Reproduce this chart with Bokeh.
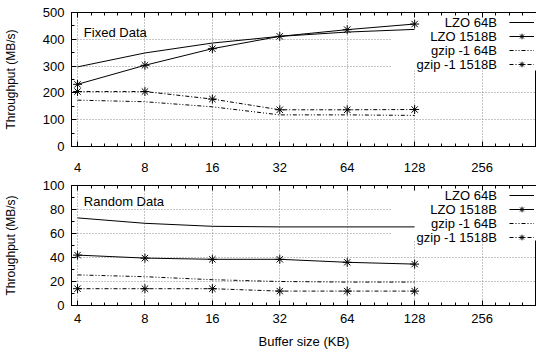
from bokeh.plotting import figure
from bokeh.layouts import column
from bokeh.models import (Range1d, FixedTicker, SingleIntervalTicker, BasicTickFormatter,
                          CustomJSTickFormatter, LogAxis, Legend, LegendItem, Label,
                          BoxAnnotation)
from bokeh.embed import file_html
from bokeh.resources import INLINE

# ---------------- data ----------------
buffer_kb = [4, 8, 16, 32, 64, 128]
x_tick_values = [4, 8, 16, 32, 64, 128, 256]
series_names = ["LZO 64B", "LZO 1518B", "gzip -1 64B", "gzip -1 1518B"]

fixed_lzo_64 = [297, 349, 386, 411, 427, 437]
fixed_lzo_1518 = [232, 303, 365, 411, 436, 457]
fixed_gzip_64 = [173, 167, 148, 118, 118, 116]
fixed_gzip_1518 = [205, 205, 177, 137, 137, 138]

random_lzo_64 = [73, 68.5, 66, 65.5, 65.5, 65.5]
random_lzo_1518 = [42, 39.5, 38.5, 38.5, 36, 34.5]
random_gzip_64 = [25.5, 24, 21.5, 20, 19.5, 19.5]
random_gzip_1518 = [14, 14, 14, 12, 12, 12]

FONT = "Liberation Sans"
minor_x = [2 * 2 ** (i / 5) for i in range(0, 41)]

styles = [
    dict(dash="solid", marker=False),
    dict(dash="solid", marker=True),
    dict(dash="4 2 1 2 1 2", marker=False),
    dict(dash="4 2 1 2", marker=True),
]

FIG_W = 536
FRAME_LEFT = 67
X_START, X_END = 3.76, 448
LEGEND_TEXT_X = 298       # data x of the right edge of key texts


def make_panel(series, y_max, y_step, panel_label, label_y, box_bottom, height,
               border_top, border_bottom, frame_h, xlabel, key_first_row, key_text_y,
               tick_standoff):
    p = figure(width=FIG_W, height=height, x_axis_type="log",
               x_range=Range1d(X_START, X_END), y_range=Range1d(0, y_max),
               output_backend="svg", toolbar_location=None,
               min_border_left=FRAME_LEFT, min_border_right=0,
               min_border_top=border_top, min_border_bottom=border_bottom)
    p.background_fill_color = "white"
    p.border_fill_color = "white"
    p.outline_line_color = "black"
    p.outline_line_width = 1

    p.xaxis.ticker = FixedTicker(ticks=x_tick_values, minor_ticks=minor_x)
    p.xaxis.formatter = BasicTickFormatter()
    p.yaxis.ticker = SingleIntervalTicker(interval=y_step, num_minor_ticks=2)
    for ax in (p.xaxis, p.yaxis):
        ax.major_tick_in = 5
        ax.major_tick_out = 0
        ax.minor_tick_in = 3
        ax.minor_tick_out = 0
        ax.axis_line_color = "black"
        ax.major_tick_line_color = "black"
        ax.minor_tick_line_color = "black"
        ax.major_label_text_font = FONT
        ax.major_label_text_font_size = "13px"
        ax.major_label_text_color = "black"
        ax.axis_label_text_font = FONT
        ax.axis_label_text_font_style = "normal"
        ax.axis_label_text_color = "black"
    p.xaxis.major_label_standoff = tick_standoff
    p.yaxis.major_label_standoff = 7
    p.yaxis.axis_label = "Throughput (MB/s)"
    p.yaxis.axis_label_text_font_size = "12px"
    p.yaxis.axis_label_standoff = 22
    if xlabel:
        p.xaxis.axis_label = xlabel
        p.xaxis.axis_label_text_font_size = "13px"
        p.xaxis.axis_label_standoff = 8

    top_axis = LogAxis(ticker=FixedTicker(ticks=x_tick_values, minor_ticks=minor_x),
                       formatter=CustomJSTickFormatter(code="return ''"),
                       major_label_text_font_size="0px", major_label_standoff=0,
                       major_tick_in=5, major_tick_out=0, minor_tick_in=3, minor_tick_out=0,
                       axis_line_color="black")
    p.add_layout(top_axis, "above")

    for g in (p.xgrid, p.ygrid):
        g.grid_line_color = "#8a8a8a"
        g.grid_line_dash = "1 2"
        g.grid_line_width = 1

    # opaque key background
    p.add_layout(BoxAnnotation(left=100.9, bottom=box_bottom, fill_color="white",
                               fill_alpha=1.0, line_alpha=0, level="underlay"))

    items = []
    for name, vals, st in zip(series_names, series, styles):
        rs = [p.line(buffer_kb, vals, line_color="black", line_width=1,
                     line_dash=st["dash"])]
        if st["marker"]:
            rs.append(p.scatter(buffer_kb, vals, marker="asterisk", size=9,
                                line_color="black", line_width=1))
        items.append(LegendItem(label=" ", renderers=rs))

    # key_first_row: centre of the first key row, pixels below the frame top
    row_h = 14
    key_top = key_first_row - row_h / 2
    legend = Legend(items=items,
                    location=(505 - FRAME_LEFT, round(frame_h - key_top - 4 * row_h)),
                    orientation="vertical",
                    glyph_width=25, glyph_height=row_h, label_height=row_h, label_width=0,
                    spacing=0, padding=0, margin=0, label_standoff=0,
                    label_text_font=FONT, label_text_font_size="1px",
                    border_line_alpha=0, background_fill_alpha=0)
    p.add_layout(legend)

    # key texts, right-aligned left of the samples (gnuplot style)
    for name, ty in zip(series_names, key_text_y):
        p.add_layout(Label(x=LEGEND_TEXT_X, y=ty, text=name, text_font=FONT,
                           text_font_size="13px", text_align="right",
                           text_baseline="middle", text_color="black"))

    p.add_layout(Label(x=4.27, y=label_y, text=panel_label, text_font=FONT,
                       text_font_size="13px", text_baseline="middle",
                       text_color="black"))
    return p


top_key_y = [463.8, 411.6, 359.3, 307.1]
bot_key_y = [91.7, 80.0, 68.3, 56.7]

p1 = make_panel([fixed_lzo_64, fixed_lzo_1518, fixed_gzip_64, fixed_gzip_1518],
                500, 100, "Fixed Data", 426.5, 283.6,
                178, 12, 32, 134, None, 9.7, top_key_y, 16)
p2 = make_panel([random_lzo_64, random_lzo_1518, random_gzip_64, random_gzip_1518],
                100, 20, "Random Data", 86.7, 54.2,
                173, 7, 46, 120, "Buffer size (KB)", 10, bot_key_y, 8)

layout = column(p1, p2, spacing=0)
open("out.html", "w").write(file_html(layout, INLINE))
